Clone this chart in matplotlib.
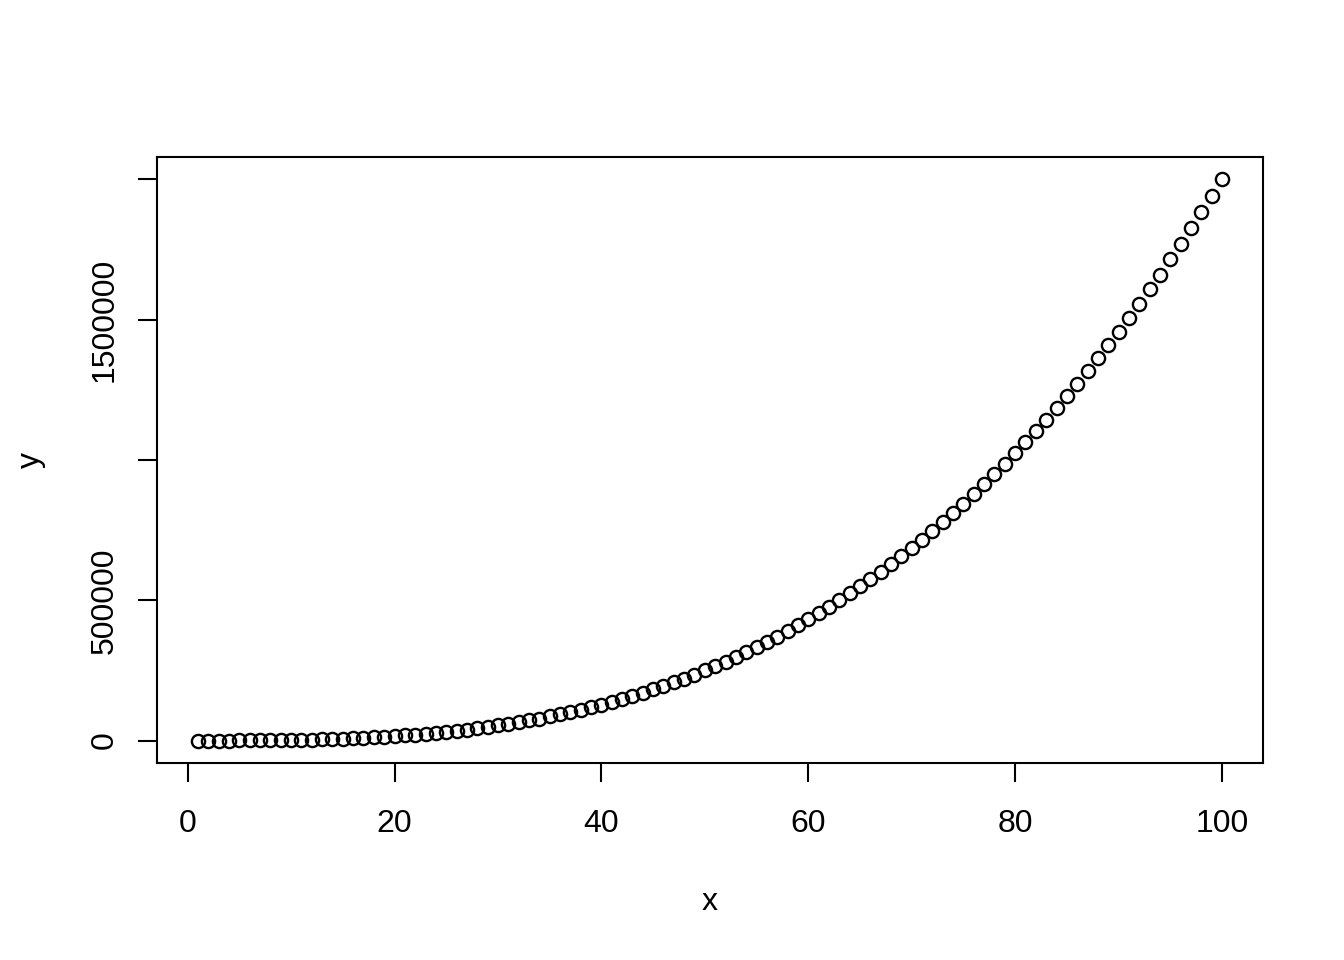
import numpy as np
import matplotlib
matplotlib.use('Agg')
import matplotlib.pyplot as plt

plt.rc('font', family='Liberation Sans', size=23)

# x = 1..100, y values
x = list(range(1, 101))
y = [2, 16, 54, 128, 250, 432, 686, 1024, 1458, 2000,
     2662, 3456, 4394, 5488, 6750, 8192, 9826, 11664, 13718, 16000,
     18522, 21296, 24334, 27648, 31250, 35152, 39366, 43904, 48778, 54000,
     59582, 65536, 71874, 78608, 85750, 93312, 101306, 109744, 118638, 128000,
     137842, 148176, 159014, 170368, 182250, 194672, 207646, 221184, 235298, 250000,
     265302, 281216, 297754, 314928, 332750, 351232, 370386, 390224, 410758, 432000,
     453962, 476656, 500094, 524288, 549250, 574992, 601526, 628864, 657018, 686000,
     715822, 746496, 778034, 810448, 843750, 877952, 913066, 949104, 986078, 1024000,
     1062882, 1102736, 1143574, 1185408, 1228250, 1272112, 1317006, 1362944, 1409938, 1458000,
     1507142, 1557376, 1608714, 1661088, 1714750, 1769472, 1825346, 1882384, 1940598, 2000000]

xticks = [0, 20, 40, 60, 80, 100]
yticks = [0, 500000, 1000000, 1500000, 2000000]
yticklabels = ['0', '500000', '', '1500000', '']

fig = plt.figure(figsize=(13.44, 9.6), dpi=100)
ax = fig.add_axes([157/1344, 1 - 763/960, (1263-157)/1344, (763-157)/960])

ax.plot(x, y, 'o', mfc='none', mec='black', ms=9.5, mew=1.7)

xr = max(x) - min(x)
yr = max(y) - min(y)
ax.set_xlim(min(x) - 0.04*xr, max(x) + 0.04*xr)
ax.set_ylim(min(y) - 0.04*yr, max(y) + 0.04*yr)

ax.set_xticks(xticks)
ax.set_yticks(yticks)
ax.set_yticklabels(yticklabels, rotation=90, va='center')
ax.tick_params(direction='out', length=14, width=1.5)
ax.tick_params(axis='x', pad=19)
ax.tick_params(axis='y', pad=13)

for s in ax.spines.values():
    s.set_linewidth(1.5)

ax.set_xlabel('x', labelpad=35)
ax.set_ylabel('y', labelpad=31)

fig.savefig('out.png', dpi=100)
